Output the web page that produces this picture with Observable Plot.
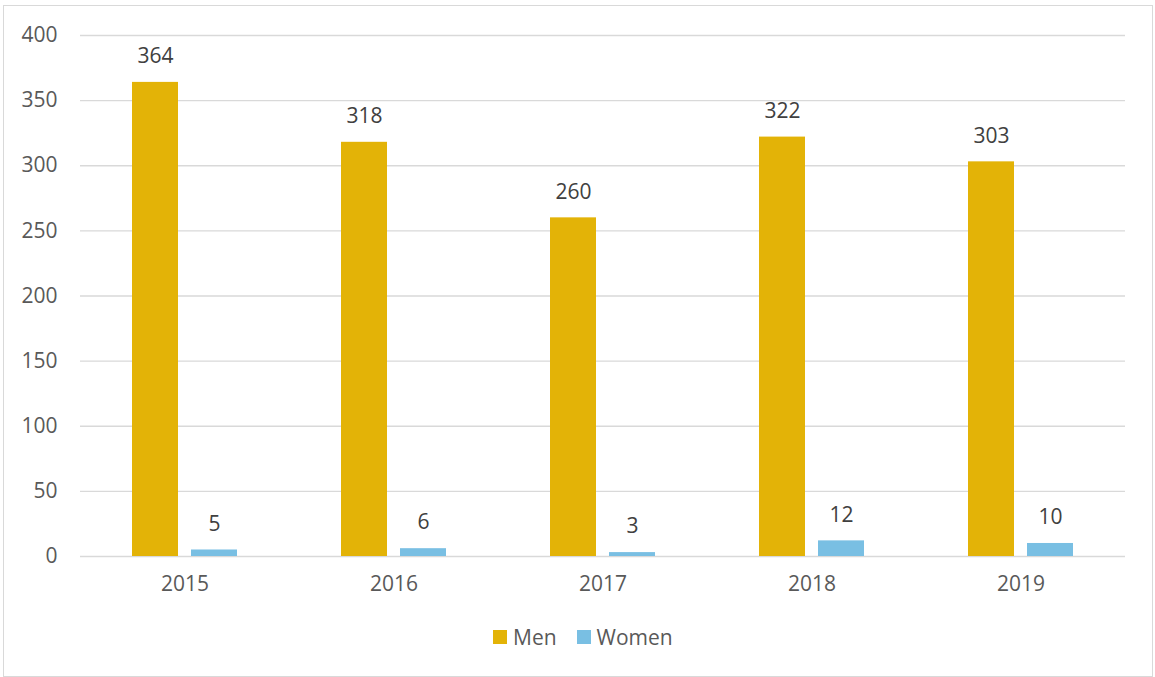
<!DOCTYPE html>
<html>
<head>
<meta charset="utf-8">
<script src="https://cdn.jsdelivr.net/npm/d3@7"></script>
<script src="https://cdn.jsdelivr.net/npm/@observablehq/plot@0.6"></script>
<style>
  html, body { margin: 0; padding: 0; background: #fff; }
  body { width: 1155px; height: 677px; position: relative; overflow: hidden; font-family: "Open Sans", sans-serif; }
  #frame { position: absolute; left: 3px; top: 5px; width: 1148px; height: 670px; border: 1px solid #d9d9d9; box-sizing: content-box; }
  #chart { position: absolute; left: 0; top: 0; }
  #legend { position: absolute; left: 493px; top: 623px; display: flex; align-items: center; font-size: 21px; color: #595959; }
  .item { display: flex; align-items: center; margin-right: 20px; }
  .sw { width: 14px; height: 14px; margin-right: 6px; }
</style>
</head>
<body>
<div id="frame"></div>
<div id="chart"></div>
<div id="legend"></div>
<script>
const years = ["2015", "2016", "2017", "2018", "2019"];
const series = ["Men", "Women"];
const men = [364, 318, 260, 322, 303];
const women = [5, 6, 3, 12, 10];
const colors = ["#E3B307", "#79BFE3"];
const yTicks = [0, 50, 100, 150, 200, 250, 300, 350, 400];

const data = [];
years.forEach((y, i) => {
  data.push({year: y, series: "Men", value: men[i]});
  data.push({year: y, series: "Women", value: women[i]});
});

const chart = Plot.plot({
  width: 1155,
  height: 600,
  marginLeft: 79,
  marginRight: 29,
  marginTop: 35,
  marginBottom: 44,
  style: {fontFamily: "'Open Sans', sans-serif", fontSize: "21px", color: "#595959", background: "transparent"},
  fx: {domain: years, padding: 0, label: null, axis: "bottom", tickSize: 0, tickPadding: 20},
  x: {domain: series, paddingInner: 0.2167, paddingOuter: 0.853, axis: null},
  y: {domain: [0, 400], ticks: yTicks, tickSize: 0, tickPadding: 23, tickFormat: d3.format("d"), label: null},
  color: {domain: series, range: colors},
  marks: [
    Plot.gridY(yTicks, {stroke: "#d9d9d9", strokeOpacity: 1, strokeWidth: 1.3}),
    Plot.barY(data, {fx: "year", x: "series", y: "value", fill: "series"}),
    Plot.text(data, {fx: "year", x: "series", y: "value", text: d => String(d.value), dy: -26, fill: "#404040"})
  ]
});
document.getElementById("chart").appendChild(chart);

const legend = document.getElementById("legend");
series.forEach((s, i) => {
  const item = document.createElement("div");
  item.className = "item";
  const sw = document.createElement("div");
  sw.className = "sw";
  sw.style.background = colors[i];
  const lab = document.createElement("span");
  lab.textContent = s;
  item.appendChild(sw);
  item.appendChild(lab);
  legend.appendChild(item);
});
</script>
</body>
</html>
